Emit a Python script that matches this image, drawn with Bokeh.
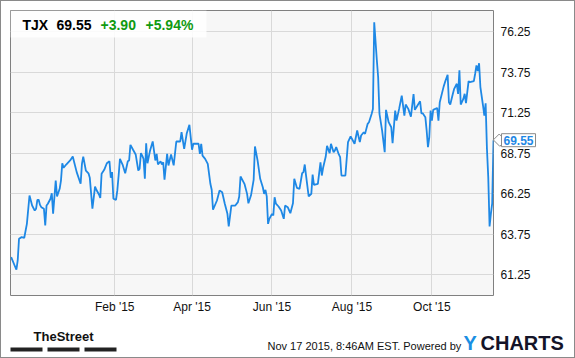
from datetime import datetime
import pandas as pd
from bokeh.plotting import figure
from bokeh.layouts import column
from bokeh.core.properties import value
from bokeh.models import (ColumnDataSource, Range1d, FixedTicker, Label,
                          BoxAnnotation, PrintfTickFormatter)
from bokeh.embed import file_html
from bokeh.resources import INLINE

# ---------------- data ----------------
ticker_name = "TJX"
last_price = 69.55
change_abs = "+3.90"
change_pct = "+5.94%"
stamp_text = "Nov 17 2015, 8:46AM EST. Powered by"

dates = [
    "2014-11-14", "2014-11-18", "2014-11-19", "2014-11-20", "2014-11-22", "2014-11-24", "2014-11-26", "2014-11-28", "2014-11-30",
    "2014-12-02", "2014-12-03", "2014-12-04", "2014-12-05", "2014-12-06", "2014-12-07", "2014-12-09", "2014-12-10", "2014-12-11",
    "2014-12-12", "2014-12-14", "2014-12-15", "2014-12-16", "2014-12-18", "2014-12-19", "2014-12-21", "2014-12-22", "2014-12-23",
    "2014-12-24", "2014-12-26", "2014-12-29", "2014-12-31",
    "2015-01-03", "2015-01-06", "2015-01-07", "2015-01-08", "2015-01-10", "2015-01-12", "2015-01-13", "2015-01-15", "2015-01-17",
    "2015-01-18", "2015-01-20", "2015-01-21", "2015-01-22", "2015-01-24", "2015-01-26", "2015-01-28", "2015-01-29", "2015-01-30",
    "2015-01-31",
    "2015-02-02", "2015-02-03", "2015-02-04", "2015-02-05", "2015-02-07", "2015-02-09", "2015-02-11", "2015-02-12", "2015-02-13",
    "2015-02-15", "2015-02-17", "2015-02-19", "2015-02-20", "2015-02-21", "2015-02-22", "2015-02-23", "2015-02-24", "2015-02-25",
    "2015-02-26", "2015-02-28",
    "2015-03-02", "2015-03-04", "2015-03-05", "2015-03-06", "2015-03-08", "2015-03-09", "2015-03-10", "2015-03-11", "2015-03-13",
    "2015-03-14", "2015-03-16", "2015-03-18", "2015-03-20", "2015-03-23", "2015-03-24", "2015-03-26", "2015-03-28", "2015-03-30",
    "2015-04-01", "2015-04-02", "2015-04-06", "2015-04-07", "2015-04-08", "2015-04-09", "2015-04-11", "2015-04-13", "2015-04-15",
    "2015-04-16", "2015-04-17", "2015-04-20", "2015-04-22", "2015-04-24", "2015-04-26", "2015-04-28", "2015-04-29",
    "2015-05-01", "2015-05-04", "2015-05-06", "2015-05-07", "2015-05-08", "2015-05-11", "2015-05-13", "2015-05-14", "2015-05-16",
    "2015-05-18", "2015-05-19", "2015-05-21", "2015-05-23", "2015-05-25", "2015-05-26", "2015-05-27", "2015-05-28", "2015-05-29",
    "2015-05-30",
    "2015-06-01", "2015-06-02", "2015-06-03", "2015-06-04", "2015-06-06", "2015-06-08", "2015-06-10", "2015-06-11", "2015-06-13",
    "2015-06-15", "2015-06-17", "2015-06-18", "2015-06-20", "2015-06-22", "2015-06-24", "2015-06-25", "2015-06-26", "2015-06-27",
    "2015-06-29",
    "2015-07-01", "2015-07-02", "2015-07-03", "2015-07-06", "2015-07-08", "2015-07-09", "2015-07-10", "2015-07-12", "2015-07-13",
    "2015-07-15", "2015-07-16", "2015-07-18", "2015-07-19", "2015-07-20", "2015-07-22", "2015-07-23", "2015-07-24", "2015-07-27",
    "2015-07-29", "2015-07-31",
    "2015-08-03", "2015-08-05", "2015-08-07", "2015-08-08", "2015-08-10", "2015-08-11", "2015-08-13", "2015-08-14", "2015-08-16",
    "2015-08-17", "2015-08-18", "2015-08-20", "2015-08-21", "2015-08-22", "2015-08-24", "2015-08-26", "2015-08-27", "2015-08-29",
    "2015-08-31",
    "2015-09-01", "2015-09-03", "2015-09-04", "2015-09-06", "2015-09-08", "2015-09-10", "2015-09-11", "2015-09-13", "2015-09-15",
    "2015-09-17", "2015-09-18", "2015-09-20", "2015-09-22", "2015-09-23", "2015-09-24", "2015-09-26", "2015-09-27", "2015-09-28",
    "2015-09-29", "2015-09-30",
    "2015-10-01", "2015-10-02", "2015-10-05", "2015-10-06", "2015-10-07", "2015-10-10", "2015-10-11", "2015-10-13", "2015-10-14",
    "2015-10-15", "2015-10-17", "2015-10-18", "2015-10-20", "2015-10-21", "2015-10-22", "2015-10-23", "2015-10-25", "2015-10-26",
    "2015-10-27", "2015-10-29", "2015-10-30",
    "2015-11-02", "2015-11-03", "2015-11-04", "2015-11-05", "2015-11-06", "2015-11-07", "2015-11-09", "2015-11-10", "2015-11-11",
    "2015-11-12", "2015-11-13", "2015-11-14", "2015-11-15", "2015-11-16", "2015-11-17",
]

close = [
    62.34, 61.56, 62.13, 63.47, 63.57, 63.53, 64.39, 66.14, 65.52,
    65.21, 65.32, 65.87, 65.87, 65.56, 65.42, 65.32, 64.29, 65.52,
    65.63, 65.94, 66.28, 65.01, 67.06, 66.08, 66.55, 67.06, 68.13,
    67.85, 68.05, 68.30, 68.54,
    67.58, 66.86, 68.09, 68.54, 67.68, 67.51, 67.23, 65.32, 66.69,
    66.49, 66.20, 65.99, 67.48, 67.72, 68.13, 68.25, 67.23, 67.58,
    65.94,
    65.87, 66.45, 67.37, 68.40, 68.05, 67.51, 68.25, 68.30, 69.26,
    68.96, 68.67, 67.68, 67.79, 68.75, 68.60, 68.40, 67.17, 69.36,
    68.13, 68.92,
    69.47, 68.30, 68.71, 68.05, 68.25, 68.05, 68.19, 67.11, 68.71,
    67.99, 68.67, 68.00, 69.47, 69.47, 70.04, 69.02, 69.98, 70.50,
    68.96, 69.33, 69.33, 68.71, 69.33, 68.60, 68.40, 68.09, 66.86,
    66.49, 65.26, 65.83, 66.45, 66.34, 65.63, 65.01, 64.23,
    65.52, 65.52, 65.73, 66.08, 67.31, 66.86, 66.24, 65.66, 66.15,
    67.10, 69.16, 68.30, 67.17, 66.65, 66.24, 66.49, 66.08, 64.39,
    64.70,
    65.01, 64.91, 66.03, 65.63, 65.46, 65.21, 64.70, 65.52, 65.42,
    65.05, 65.66, 67.17, 66.61, 66.55, 67.51, 67.58, 68.05, 67.37,
    66.08,
    66.24, 67.43, 66.80, 66.86, 68.19, 67.37, 67.85, 68.54, 69.20,
    68.75, 69.33, 68.81, 68.92, 69.12, 68.67, 68.50, 67.37, 67.37,
    69.43, 69.79,
    69.33, 70.15, 69.43, 69.84, 70.04, 69.94, 70.56, 70.66, 71.17,
    71.48, 76.82, 74.48, 73.43, 71.17, 70.15, 68.81, 71.42, 70.66,
    70.35,
    69.36, 71.38, 70.76, 71.48, 72.30, 71.07, 71.75, 71.48, 71.00,
    72.40, 71.42, 71.69, 71.95, 71.21, 71.21, 70.97, 70.15, 69.12,
    69.73, 71.38,
    70.76, 71.42, 71.54, 70.76, 71.89, 72.87, 73.13, 73.59, 71.89,
    71.75, 72.41, 72.72, 73.03, 72.41, 73.86, 71.75, 72.10, 72.41,
    71.83, 73.19, 73.13,
    73.19, 73.65, 74.16, 73.81, 74.30, 72.83, 71.69, 71.07, 71.83,
    69.02, 67.27, 64.23, 65.01, 65.65, 69.55,
]

y_ticks = [61.25, 63.75, 66.25, 68.75, 71.25, 73.75, 76.25]
x_tick_dates = ["2015-02-01", "2015-04-01", "2015-06-01", "2015-08-01", "2015-10-01"]
x_tick_labels = ["Feb '15", "Apr '15", "Jun '15", "Aug '15", "Oct '15"]

assert len(dates) == len(close), (len(dates), len(close))

# ---------------- layout (page has a 1px card border) ----------------
W = 573                      # inner width (inside the 1px border)
H_MAIN, H_FOOT = 326, 30
L, R, T, B = 9, 81, 9, 32
FW, FH = W - L - R, H_MAIN - T - B
X0, X1 = datetime(2014, 11, 13, 12), datetime(2015, 11, 17)
Y0, Y1 = 59.97, 77.55

FONT = "Liberation Sans"
BLUE = "#1e88e5"
GREEN = "#119a11"

src = ColumnDataSource(dict(date=pd.to_datetime(dates), close=close))

p = figure(width=W, height=H_MAIN, x_axis_type="datetime", y_axis_location="right",
           x_range=Range1d(X0, X1), y_range=Range1d(Y0, Y1),
           output_backend="svg", toolbar_location=None,
           min_border_left=L, min_border_right=R, min_border_top=T, min_border_bottom=B)

p.background_fill_color = "#f7f7f7"
p.border_fill_color = "white"
p.outline_line_color = "#808080"
p.outline_line_width = 1

x_ms = [pd.Timestamp(d).value / 1e6 for d in x_tick_dates]
xt = FixedTicker(ticks=x_ms)
yt = FixedTicker(ticks=y_ticks)
p.xaxis.ticker = xt
p.xgrid.ticker = xt
p.yaxis.ticker = yt
p.ygrid.ticker = yt
p.xaxis.major_label_overrides = {m: lab for m, lab in zip(x_ms, x_tick_labels)}
p.yaxis.formatter = PrintfTickFormatter(format="%.2f")

p.grid.grid_line_color = "#d9d9d9"
p.grid.grid_line_width = 1

for ax in (p.xaxis[0], p.yaxis[0]):
    ax.axis_line_color = None
    ax.major_tick_line_color = None
    ax.minor_tick_line_color = None
    ax.major_tick_out = 0
    ax.major_tick_in = 0
    ax.major_label_text_font = FONT
    ax.major_label_text_font_size = "12px"
    ax.major_label_text_color = "#111111"
p.xaxis.major_label_standoff = 4
p.yaxis.major_label_standoff = 7

p.line("date", "close", source=src, line_color=BLUE, line_width=1.8)

HAS_PAD = "padding" in Label.properties()


def label(x, y, text, size, color="#000000", bold=False, align="left", pad=None, **kw):
    if pad is not None and HAS_PAD:
        kw["padding"] = pad
    return Label(x=x, y=y, x_units="canvas", y_units="canvas", text=text,
                 text_font=FONT, text_font_size=size, text_color=color,
                 text_font_style="bold" if bold else "normal",
                 text_align=align, text_baseline="middle", **kw)


# header box with ticker / price / change (inside the plot frame)
p.add_layout(BoxAnnotation(left=L, right=205, top=T, bottom=36,
                           left_units="canvas", right_units="canvas",
                           top_units="canvas", bottom_units="canvas",
                           fill_color="white", fill_alpha=0.85, line_color=None))
p.add_layout(label(21, 23, ticker_name, "14px", bold=True))
p.add_layout(label(55, 23, f"{last_price:.2f}", "14px", bold=True))
p.add_layout(label(99, 23, change_abs, "14px", color=GREEN, bold=True))
p.add_layout(label(144, 23, change_pct, "14px", color=GREEN, bold=True))

# last value pointer (side panels are not clipped by the frame)
yc = T + FH * (Y1 - close[-1]) / (Y1 - Y0)
xr = L + FW
tip = label(xr + 6, yc, " ", "1px", align="center", pad=4, angle=45, angle_units="deg",
            background_fill_color="white", border_line_color="#8a8a8a", level="annotation")
p.add_layout(tip, "below")
ptr = label(xr + 8, yc, f"{close[-1]:.2f}", "12px", color=BLUE, bold=True, pad=2,
            background_fill_color="white", border_line_color="#8a8a8a", level="overlay")
p.add_layout(ptr, "right")

# ---------------- footer ----------------
f = figure(width=W, height=H_FOOT, x_range=Range1d(0, W), y_range=Range1d(H_FOOT, 0),
           output_backend="svg", toolbar_location=None, min_border=0,
           x_axis_location=None, y_axis_location=None)
f.grid.visible = False
f.outline_line_color = None
f.background_fill_color = "white"
f.border_fill_color = "white"
if "frame_align" in f.properties():
    f.frame_align = False
    p.frame_align = False

f.text(x=[62], y=[9], text=["TheStreet"], text_font=value(FONT), text_font_style="bold",
       text_font_size="13px", text_color="#111111", text_align="center", text_baseline="middle")
f.quad(left=[9, 46, 83], right=[41, 78, 115], top=[20, 20, 20], bottom=[24, 24, 24],
       fill_color="#222222", line_color=None)
f.text(x=[266], y=[18], text=[stamp_text], text_font=value(FONT), text_font_size="11px",
       text_color="#111111", text_align="left", text_baseline="middle")
f.text(x=[462], y=[15], text=["Y"], text_font=value(FONT), text_font_style="bold",
       text_font_size="20px", text_color="#1a8fe3", text_align="left", text_baseline="middle")
f.text(x=[479], y=[15], text=["CHARTS"], text_font=value(FONT), text_font_style="bold",
       text_font_size="20px", text_color="#141428", text_align="left", text_baseline="middle")

page = column(p, f, spacing=0, styles={"border": "1px solid #8a8a8a"})

open("out.html", "w").write(file_html(page, INLINE))
